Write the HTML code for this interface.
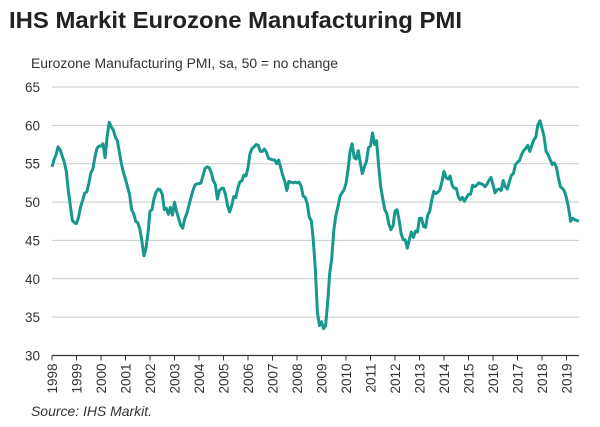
<!DOCTYPE html>
<html><head><meta charset="utf-8"><style>
body{margin:0;background:#fff;font-family:"Liberation Sans",Arial,sans-serif}
#wrap{position:relative;width:600px;height:427px;overflow:hidden}
</style></head><body>
<div id="wrap">
<svg id="chart" width="600" height="427">
<text x="9" y="28" font-size="23" font-weight="bold" fill="#222" textLength="453" lengthAdjust="spacingAndGlyphs">IHS Markit Eurozone Manufacturing PMI</text>
<text x="31" y="68" font-size="13.5" fill="#333" textLength="307" lengthAdjust="spacingAndGlyphs">Eurozone Manufacturing PMI, sa, 50 = no change</text>
<text x="31" y="416" font-size="14" font-style="italic" fill="#333" textLength="121" lengthAdjust="spacingAndGlyphs">Source: IHS Markit.</text>
<g id="grid"></g><g id="axes"></g><g id="series"></g>
</svg>
</div>
<script>
const yTicks=[30,35,40,45,50,55,60,65];
const years=[1998,1999,2000,2001,2002,2003,2004,2005,2006,2007,2008,2009,2010,2011,2012,2013,2014,2015,2016,2017,2018,2019];
const startYear=1998;
const pmi=[
54.6,55.5,56.2,57.2,56.8,56.0,55.2,54.0,51.5,49.5,47.6,47.3,
47.2,48.0,49.4,50.2,51.2,51.3,52.4,53.8,54.3,55.8,57.0,57.3,
57.3,57.6,55.8,58.5,60.4,59.8,59.4,58.5,58.0,56.5,55.0,53.8,
53.0,52.0,51.0,49.0,48.5,47.5,47.3,46.5,45.0,43.0,43.9,46.0,
48.8,49.0,50.5,51.3,51.7,51.6,51.0,49.0,49.2,48.4,49.3,48.3,
50.0,48.8,47.9,47.0,46.6,47.8,48.5,49.5,50.5,51.5,52.2,52.4,
52.4,52.5,53.5,54.4,54.6,54.5,53.8,52.8,52.3,50.4,51.5,51.8,
51.8,51.0,49.5,48.7,49.5,50.7,50.6,51.8,52.6,52.8,53.5,53.4,
54.5,56.3,57.0,57.2,57.5,57.4,56.6,56.6,56.9,56.5,55.7,55.6,
55.5,55.5,55.0,55.5,54.5,53.5,52.7,51.5,52.7,52.6,52.5,52.6,
52.5,52.6,52.1,50.8,50.6,49.8,48.0,47.6,45.0,41.1,35.6,33.9,
34.4,33.5,33.9,36.8,40.7,42.6,46.3,48.2,49.3,50.7,51.2,51.6,
52.4,54.2,56.6,57.6,55.8,55.6,56.7,55.1,53.7,54.6,55.3,57.1,
57.3,59.0,57.5,58.0,54.6,52.0,50.4,49.0,48.5,47.1,46.4,46.9,
48.8,49.0,47.7,45.9,45.1,45.1,44.0,45.1,46.1,45.4,46.2,46.1,
47.9,47.9,46.8,46.7,48.3,48.8,50.3,51.4,51.1,51.3,51.6,52.7,
54.0,53.2,53.0,53.4,52.2,51.8,51.8,50.7,50.3,50.6,50.1,50.6,
51.0,51.0,52.2,52.0,52.2,52.5,52.4,52.3,52.0,52.3,52.8,53.2,
52.3,51.2,51.6,51.7,51.5,52.8,52.0,51.7,52.6,53.5,53.7,54.9,
55.2,55.4,56.2,56.7,57.0,57.4,56.6,57.4,58.1,58.5,60.1,60.6,
59.6,58.6,56.6,56.2,55.5,54.9,55.1,54.6,53.2,52.0,51.8,51.4,
50.5,49.3,47.5,47.9,47.7,47.6,47.5];
const NS='http://www.w3.org/2000/svg';
const X0=52,PX_YR=24.5,Y65=87,Y30=355.5;
function xs(t){return X0+(t-startYear)*PX_YR;}
function ys(v){return Y30-(v-30)*(Y30-Y65)/35;}
function mk(tag,attrs,parent){const e=document.createElementNS(NS,tag);for(const k in attrs)e.setAttribute(k,attrs[k]);parent.appendChild(e);return e;}
const grid=document.getElementById('grid'),axes=document.getElementById('axes'),ser=document.getElementById('series');
yTicks.forEach(v=>{
  if(v>30){const l=mk('line',{x1:X0,x2:579,y1:ys(v),y2:ys(v),stroke:'#c8cccc','stroke-width':1},grid);
  
  }
  const t=mk('text',{x:40,y:ys(v)+5,'text-anchor':'end','font-size':13.5,fill:'#333'},axes);
  t.textContent=v;
  
  
});
const ax=mk('line',{x1:X0,x2:579,y1:Y30,y2:Y30,stroke:'#333','stroke-width':1.2},axes);


years.forEach(y=>{
  const x=xs(y);
  const tk=mk('line',{x1:x,x2:x,y1:Y30,y2:Y30+5,stroke:'#333'},axes);
  
  
  const t=mk('text',{x:0,y:0,'font-size':13.5,fill:'#333','text-anchor':'end',transform:`translate(${x+5},${Y30+8}) rotate(-90)`},axes);
  t.textContent=y;
  
  
});
let d='';
pmi.forEach((v,i)=>{d+=(i?'L':'M')+xs(startYear+i/12).toFixed(1)+','+ys(v).toFixed(1);});
const p=mk('path',{d:d,fill:'none',stroke:'#17988c','stroke-width':3,'stroke-linejoin':'round'},ser);


</script>
</body></html>
